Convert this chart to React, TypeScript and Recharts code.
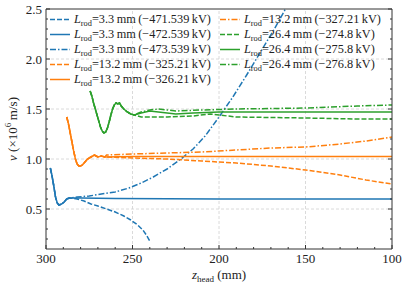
import React from 'react';
import {
  LineChart,
  Line,
  XAxis,
  YAxis,
  ReferenceLine,
} from 'recharts';

// shared start of each rod length (before the curves split)
const blueStartZ = [297.5, 296.5, 295.5, 294.5, 293.5, 292.5, 291, 289.5, 288, 286.5];
const blueStartV = [0.91, 0.83, 0.73, 0.62, 0.56, 0.54, 0.55, 0.57, 0.6, 0.61];

const orangeStartZ = [288, 287, 286, 285, 284, 283, 282, 281, 280, 279, 278, 277, 276, 275, 274, 273, 272, 271, 270, 268, 266];
const orangeStartV = [1.42, 1.35, 1.26, 1.17, 1.08, 1.0, 0.95, 0.93, 0.93, 0.94, 0.96, 0.98, 1.0, 1.01, 1.02, 1.03, 1.04, 1.03, 1.02, 1.03, 1.02];

const greenStartZ = [274.5, 273.5, 272.5, 271.5, 270.5, 269.5, 268.5, 267.5, 266.5, 265.5, 264.5, 263.5, 262.5, 261.5, 260.5, 259.5, 258.5, 257.5, 256.5, 255, 253, 251, 249];
const greenStartV = [1.68, 1.63, 1.56, 1.5, 1.44, 1.38, 1.32, 1.28, 1.26, 1.27, 1.31, 1.37, 1.44, 1.5, 1.54, 1.56, 1.55, 1.56, 1.53, 1.5, 1.47, 1.45, 1.44];

// tails
const blueDashedZ = [282, 278, 274, 270, 265, 260, 255, 251, 247, 244, 242, 240];
const blueDashedV = [0.6, 0.58, 0.55, 0.53, 0.5, 0.47, 0.43, 0.39, 0.34, 0.29, 0.24, 0.18];
const blueSolidZ = [280, 260, 200, 150, 100];
const blueSolidV = [0.61, 0.605, 0.6, 0.6, 0.6];
const blueDashDotZ = [282, 275, 268, 260, 252, 245, 238, 230, 222, 215, 208, 200, 192, 184, 176, 168, 160];
const blueDashDotV = [0.62, 0.63, 0.65, 0.67, 0.71, 0.76, 0.82, 0.9, 1.0, 1.1, 1.23, 1.42, 1.62, 1.84, 2.07, 2.3, 2.55];

const orangeDashedZ = [265, 250, 230, 210, 190, 170, 150, 130, 115, 100];
const orangeDashedV = [1.02, 1.01, 1.0, 0.98, 0.96, 0.93, 0.89, 0.84, 0.79, 0.75];
const orangeSolidZ = [250, 200, 150, 100];
const orangeSolidV = [1.025, 1.025, 1.025, 1.025];
const orangeDashDotZ = [265, 250, 230, 210, 190, 170, 150, 130, 115, 100];
const orangeDashDotV = [1.04, 1.05, 1.06, 1.07, 1.09, 1.11, 1.12, 1.15, 1.18, 1.22];

const greenDashedZ = [245, 240, 230, 215, 205, 200, 190, 150, 120, 100];
const greenDashedV = [1.42, 1.42, 1.42, 1.43, 1.45, 1.44, 1.42, 1.41, 1.4, 1.4];
const greenSolidZ = [245, 240, 235, 225, 215, 200, 150, 100];
const greenSolidV = [1.46, 1.48, 1.47, 1.45, 1.46, 1.47, 1.47, 1.47];
const greenDashDotZ = [245, 240, 235, 225, 210, 190, 150, 120, 100];
const greenDashDotV = [1.47, 1.49, 1.5, 1.48, 1.49, 1.5, 1.51, 1.53, 1.54];

const xMajor = [300, 250, 200, 150, 100];
const xTicks = Array.from({ length: 21 }, (_, i) => 100 + i * 10);
const yMajor = [0.5, 1.0, 1.5, 2.0, 2.5];
const yTicks = Array.from({ length: 24 }, (_, i) => (i + 2) / 10);

const BLUE = '#1f77b4';
const ORANGE = '#ff7f0e';
const GREEN = '#2ca02c';
const DASH = '5 2';
const DASHDOT = '6 2 1.5 2';

const zip = (zs: number[], vs: number[]) => zs.map((z, i) => ({ z, v: vs[i] }));

const series = [
  { rod: '3.3', kv: '471.539', color: BLUE, dash: DASH, data: zip([...blueStartZ, ...blueDashedZ], [...blueStartV, ...blueDashedV]) },
  { rod: '3.3', kv: '472.539', color: BLUE, dash: undefined, data: zip([...blueStartZ, ...blueSolidZ], [...blueStartV, ...blueSolidV]) },
  { rod: '3.3', kv: '473.539', color: BLUE, dash: DASHDOT, data: zip([...blueStartZ, ...blueDashDotZ], [...blueStartV, ...blueDashDotV]) },
  { rod: '13.2', kv: '325.21', color: ORANGE, dash: DASH, data: zip([...orangeStartZ, ...orangeDashedZ], [...orangeStartV, ...orangeDashedV]) },
  { rod: '13.2', kv: '326.21', color: ORANGE, dash: undefined, data: zip([...orangeStartZ, ...orangeSolidZ], [...orangeStartV, ...orangeSolidV]) },
  { rod: '13.2', kv: '327.21', color: ORANGE, dash: DASHDOT, data: zip([...orangeStartZ, ...orangeDashDotZ], [...orangeStartV, ...orangeDashDotV]) },
  { rod: '26.4', kv: '274.8', color: GREEN, dash: DASH, data: zip([...greenStartZ, ...greenDashedZ], [...greenStartV, ...greenDashedV]) },
  { rod: '26.4', kv: '275.8', color: GREEN, dash: undefined, data: zip([...greenStartZ, ...greenSolidZ], [...greenStartV, ...greenSolidV]) },
  { rod: '26.4', kv: '276.8', color: GREEN, dash: DASHDOT, data: zip([...greenStartZ, ...greenDashDotZ], [...greenStartV, ...greenDashDotV]) },
];

const FONT = '"Liberation Serif", serif';
const AXIS = '#333';

const BottomTick = (p: any) => {
  const v = p.payload.value;
  const major = xMajor.includes(v);
  return (
    <g>
      <line x1={p.x} x2={p.x} y1={p.y} y2={p.y - (major ? 4 : 2)} stroke={AXIS} />
      {major && (
        <text x={p.x} y={p.y + 14} textAnchor="middle" fontFamily={FONT} fontSize={13} fill="#222">
          {v}
        </text>
      )}
    </g>
  );
};

const TopTick = (p: any) => {
  const major = xMajor.includes(p.payload.value);
  return <line x1={p.x} x2={p.x} y1={p.y} y2={p.y + (major ? 4 : 2)} stroke={AXIS} />;
};

const isYMajor = (v: number) => yMajor.some((m) => Math.abs(m - v) < 1e-6);

const LeftTick = (p: any) => {
  const v = p.payload.value;
  const major = isYMajor(v);
  return (
    <g>
      <line x1={p.x} x2={p.x + (major ? 4 : 2)} y1={p.y} y2={p.y} stroke={AXIS} />
      {major && (
        <text x={p.x - 4} y={p.y + 4.5} textAnchor="end" fontFamily={FONT} fontSize={13} fill="#222">
          {v.toFixed(1)}
        </text>
      )}
    </g>
  );
};

const RightTick = (p: any) => {
  const major = isYMajor(p.payload.value);
  return <line x1={p.x} x2={p.x - (major ? 4 : 2)} y1={p.y} y2={p.y} stroke={AXIS} />;
};

const legendRow = (s: (typeof series)[number], left: number, top: number) => (
  <div
    key={s.kv}
    style={{ position: 'absolute', left, top, height: 15, display: 'flex', alignItems: 'center', whiteSpace: 'nowrap' }}
  >
    <svg width={21} height={15}>
      <line x1={0} x2={20} y1={7.5} y2={7.5} stroke={s.color} strokeWidth={1.5} strokeDasharray={s.dash} />
    </svg>
    <span style={{ marginLeft: 3, fontFamily: FONT, fontSize: 12.3, color: '#222' }}>
      <i>L</i>
      <span style={{ fontSize: 8.3, position: 'relative', top: 3 }}>rod</span>=
      {s.rod}&#8201;mm&#8201;(−{s.kv}&#8201;kV)
    </span>
  </div>
);

export default function App() {
  return (
    <div style={{ position: 'relative', width: 407, height: 288, background: '#fff' }}>
      <style>{'body{margin:0}'}</style>
      <LineChart width={407} height={288} margin={{ top: 8, right: 14, bottom: 38, left: 45 }}>
        <XAxis
          dataKey="z"
          type="number"
          domain={[100, 300]}
          reversed
          allowDataOverflow
          ticks={xTicks}
          interval={0}
          tick={<BottomTick />}
          tickLine={false}
          tickSize={0}
          tickMargin={0}
          height={1}
          axisLine={{ stroke: AXIS }}
        />
        <XAxis
          xAxisId="top"
          orientation="top"
          type="number"
          domain={[100, 300]}
          reversed
          allowDataOverflow
          ticks={xTicks}
          interval={0}
          tick={<TopTick />}
          tickLine={false}
          tickSize={0}
          tickMargin={0}
          height={1}
          axisLine={{ stroke: AXIS }}
        />
        <YAxis
          type="number"
          domain={[0.1, 2.5]}
          allowDataOverflow
          ticks={yTicks}
          interval={0}
          tick={<LeftTick />}
          tickLine={false}
          tickSize={0}
          tickMargin={0}
          width={1}
          axisLine={{ stroke: AXIS }}
        />
        <YAxis
          yAxisId="right"
          orientation="right"
          type="number"
          domain={[0.1, 2.5]}
          allowDataOverflow
          ticks={yTicks}
          interval={0}
          tick={<RightTick />}
          tickLine={false}
          tickSize={0}
          tickMargin={0}
          width={1}
          axisLine={{ stroke: AXIS }}
        />
        {[250, 200, 150].map((x) => (
          <ReferenceLine key={'x' + x} x={x} stroke="#d0d0d0" strokeDasharray="3 2" strokeWidth={0.8} />
        ))}
        {[0.5, 1.0, 1.5, 2.0].map((y) => (
          <ReferenceLine key={'y' + y} y={y} stroke="#d0d0d0" strokeDasharray="3 2" strokeWidth={0.8} />
        ))}
        {series.map((s) => (
          <Line
            key={s.kv}
            data={s.data}
            dataKey="v"
            type="linear"
            stroke={s.color}
            strokeWidth={1.5}
            strokeDasharray={s.dash}
            dot={false}
            activeDot={false}
            isAnimationActive={false}
          />
        ))}
      </LineChart>
      <div style={{ position: 'absolute', left: 0, top: 0, width: 407, height: 95, pointerEvents: 'none' }}>
        {series.slice(0, 5).map((s, i) => legendRow(s, 50, 12 + i * 15))}
        {series.slice(5).map((s, i) => legendRow(s, 220, 12 + i * 15))}
      </div>
      <div
        style={{
          position: 'absolute',
          left: 12,
          top: 129,
          transform: 'translate(-50%, -50%) rotate(-90deg)',
          fontFamily: FONT,
          fontSize: 13,
          color: '#222',
          whiteSpace: 'nowrap',
        }}
      >
        <i>v</i> (×10<sup style={{ fontSize: 9 }}>6</sup>&#8201;m/s)
      </div>
      <div
        style={{
          position: 'absolute',
          left: 219,
          top: 275,
          transform: 'translate(-50%, -50%)',
          fontFamily: FONT,
          fontSize: 13,
          color: '#222',
          whiteSpace: 'nowrap',
        }}
      >
        <i>z</i>
        <span style={{ fontSize: 9, position: 'relative', top: 3 }}>head</span> (mm)
      </div>
    </div>
  );
}
